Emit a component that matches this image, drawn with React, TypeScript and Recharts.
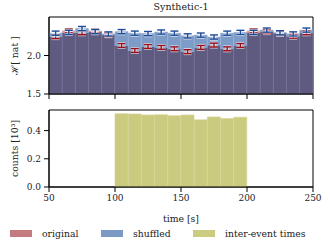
import {
  Bar,
  ComposedChart,
  ErrorBar,
  ReferenceArea,
  Scatter,
  XAxis,
  YAxis,
} from "recharts";

// bin centres, 10 s wide bins from 50 to 250
const binMid = [55, 65, 75, 85, 95, 105, 115, 125, 135, 145, 155, 165, 175, 185, 195, 205, 215, 225, 235, 245];
const original = [2.245, 2.32, 2.295, 2.32, 2.27, 2.13, 2.065, 2.117, 2.105, 2.087, 2.05, 2.105, 2.135, 2.087, 2.13, 2.32, 2.31, 2.29, 2.25, 2.295];
const originalErr = [0.025, 0.025, 0.025, 0.025, 0.025, 0.025, 0.025, 0.025, 0.025, 0.025, 0.025, 0.025, 0.025, 0.025, 0.025, 0.025, 0.025, 0.025, 0.025, 0.025];
const shuffled = [2.29, 2.3, 2.35, 2.31, 2.28, 2.31, 2.29, 2.285, 2.305, 2.29, 2.255, 2.265, 2.24, 2.29, 2.3, 2.3, 2.33, 2.295, 2.28, 2.33];
const shuffledErr = [0.027, 0.027, 0.027, 0.027, 0.027, 0.027, 0.027, 0.027, 0.027, 0.027, 0.027, 0.027, 0.027, 0.027, 0.027, 0.027, 0.027, 0.027, 0.027, 0.027];
// inter-event time counts, in units of 10^3
const counts = [0, 0, 0, 0, 0, 0.52, 0.518, 0.511, 0.513, 0.506, 0.511, 0.476, 0.497, 0.485, 0.495, 0, 0, 0, 0, 0];
const xTicks = [50, 100, 150, 200, 250];

const FONT = "'DejaVu Serif', serif";
const TICK = { fontSize: 9, fill: "#222", fontFamily: FONT };

const legendItems = [
  { name: "original", color: "#c47b80" },
  { name: "shuffled", color: "#7b9ac4" },
  { name: "inter-event times", color: "#cccc80" },
];
const legendLeft = [10, 101, 193];

const data = binMid.map((x, i) => ({
  x,
  base: Math.min(original[i], shuffled[i]),
  blueUp: Math.max(0, shuffled[i] - original[i]),
  redUp: Math.max(0, original[i] - shuffled[i]),
  orig: original[i],
  origErr: originalErr[i],
  shuf: shuffled[i],
  shufErr: shuffledErr[i],
  counts: counts[i],
}));

function yLabel(text: string) {
  return (props: any) => {
    const vb = props.viewBox;
    const cx = vb.x + 10;
    const cy = vb.y + vb.height / 2;
    return (
      <text
        x={cx}
        y={cy}
        transform={`rotate(-90 ${cx} ${cy})`}
        textAnchor="middle"
        dominantBaseline="central"
        fontSize={9.3}
        fontFamily={FONT}
        fill="#222"
      >
        {text}
      </text>
    );
  };
}

const noShape = () => <g />;

export default function App() {
  return (
    <div style={{ position: "absolute", left: 0, top: 0, width: 330, height: 250, background: "#fff" }}>
      <div
        style={{
          position: "absolute",
          left: 49,
          width: 264,
          top: 1,
          textAlign: "center",
          fontFamily: FONT,
          fontSize: 9.5,
          color: "#222",
        }}
      >
        Synthetic-1
      </div>

      <div style={{ position: "absolute", left: 0, top: 0 }}>
        <ComposedChart
          width={330}
          height={100}
          data={data}
          margin={{ top: 17, right: 17, bottom: 1, left: 4 }}
          barCategoryGap={0}
        >
          <XAxis
            dataKey="x"
            type="number"
            domain={[50, 250]}
            ticks={xTicks}
            height={5}
            tickSize={5}
            tickFormatter={() => ""}
            stroke="#000"
            allowDataOverflow
          />
          <YAxis
            domain={[1.5, 2.5]}
            ticks={[1.5, 2.0]}
            width={45}
            tick={TICK}
            tickSize={5}
            tickMargin={3}
            stroke="#000"
            allowDataOverflow
            tickFormatter={(v) => Number(v).toFixed(1)}
            label={{ content: yLabel("ℋ[ nat ]") }}
          />
          <Bar dataKey="base" stackId="h" fill="#5e5a80" stroke="#6b6890" strokeWidth={0.6} isAnimationActive={false} />
          <Bar dataKey="blueUp" stackId="h" fill="#7e9cc8" stroke="#93acd3" strokeWidth={0.6} isAnimationActive={false} />
          <Bar dataKey="redUp" stackId="h" fill="#d49ca0" stroke="#d9a8ab" strokeWidth={0.6} isAnimationActive={false} />
          <Scatter dataKey="orig" shape={noShape} isAnimationActive={false}>
            <ErrorBar dataKey="origErr" direction="y" width={4} stroke="#ffffff" strokeWidth={3.2} strokeOpacity={0.6} />
            <ErrorBar dataKey="origErr" direction="y" width={4} stroke="#990f1b" strokeWidth={1.4} />
          </Scatter>
          <Scatter dataKey="shuf" shape={noShape} isAnimationActive={false}>
            <ErrorBar dataKey="shufErr" direction="y" width={4} stroke="#ffffff" strokeWidth={3.2} strokeOpacity={0.6} />
            <ErrorBar dataKey="shufErr" direction="y" width={4} stroke="#1d4b98" strokeWidth={1.4} />
          </Scatter>
          <ReferenceArea x1={50} x2={250} y1={1.5} y2={2.5} fill="none" stroke="#000" strokeWidth={1} fillOpacity={0} />
        </ComposedChart>
      </div>

      <div style={{ position: "absolute", left: 0, top: 100 }}>
        <ComposedChart
          width={330}
          height={130}
          data={data}
          margin={{ top: 10, right: 17, bottom: 7, left: 4 }}
          barCategoryGap={0}
        >
          <XAxis
            dataKey="x"
            type="number"
            domain={[50, 250]}
            ticks={xTicks}
            height={36}
            tick={TICK}
            tickSize={5}
            tickMargin={3}
            stroke="#000"
            allowDataOverflow
            label={{
              content: (props: any) => {
                const vb = props.viewBox;
                return (
                  <text
                    x={vb.x + vb.width / 2}
                    y={vb.y + 31}
                    textAnchor="middle"
                    dominantBaseline="central"
                    fontSize={9.3}
                    fontFamily={FONT}
                    fill="#222"
                  >
                    time [s]
                  </text>
                );
              },
            }}
          />
          <YAxis
            domain={[0, 0.546]}
            ticks={[0, 0.2, 0.4]}
            width={45}
            tick={TICK}
            tickSize={5}
            tickMargin={3}
            stroke="#000"
            allowDataOverflow
            tickFormatter={(v) => Number(v).toFixed(1)}
            label={{ content: yLabel("counts [10³]") }}
          />
          <Bar dataKey="counts" fill="#cbcb7f" stroke="#d3d394" strokeWidth={0.6} isAnimationActive={false} />
          <ReferenceArea x1={50} x2={250} y1={0} y2={0.546} fill="none" stroke="#000" strokeWidth={1} fillOpacity={0} />
        </ComposedChart>
      </div>

      {legendItems.map((it, i) => (
        <div
          key={it.name}
          style={{
            position: "absolute",
            left: legendLeft[i],
            top: 228,
            display: "flex",
            alignItems: "center",
            fontFamily: FONT,
            fontSize: 9.3,
            color: "#222",
            whiteSpace: "nowrap",
          }}
        >
          <span style={{ display: "inline-block", width: 22, height: 7, background: it.color, marginRight: 10 }} />
          <span>{it.name}</span>
        </div>
      ))}
    </div>
  );
}
